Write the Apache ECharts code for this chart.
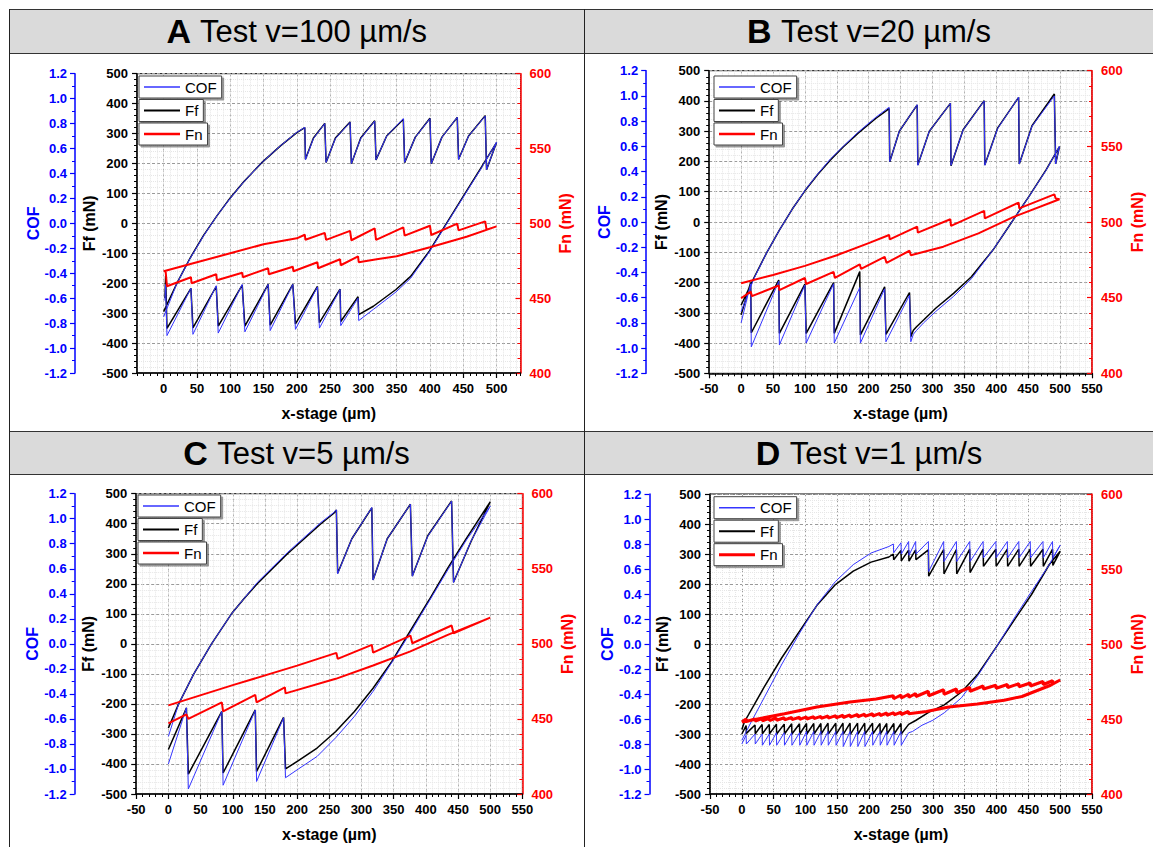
<!DOCTYPE html>
<html>
<head>
<meta charset="utf-8">
<script src="https://cdn.jsdelivr.net/npm/echarts@6/dist/echarts.min.js"></script>
<style>
  body { margin: 0; background: #fff; }
  #fig { position: relative; width: 1153px; height: 847px; overflow: hidden; background: #fff; }
  .bar { position: absolute; left: 9px; right: 0; background: #dadada; border-top: 1px solid #333; border-bottom: 1px solid #333; }
  .vline { position: absolute; width: 1px; background: #222; top: 9px; bottom: 0; }
  .panel { position: absolute; }
</style>
</head>
<body>
<div id="fig">
  <div class="bar" style="top:9px;height:43px"></div>
  <div class="bar" style="top:431px;height:42px"></div>
  <div class="vline" style="left:9px"></div>
  <div class="vline" style="left:584px"></div>
  <div class="panel" id="pA" style="left:9px;top:9px;width:575px;height:421px"></div>
  <div class="panel" id="pB" style="left:585px;top:9px;width:568px;height:421px"></div>
  <div class="panel" id="pC" style="left:9px;top:431px;width:575px;height:416px"></div>
  <div class="panel" id="pD" style="left:585px;top:431px;width:568px;height:416px"></div>
</div>
<script>
// tick labels
const X_TICKS_A = [0, 50, 100, 150, 200, 250, 300, 350, 400, 450, 500]
const X_TICKS = [-50, 0, 50, 100, 150, 200, 250, 300, 350, 400, 450, 500, 550]

// panel A, v = 100 um/s  ([x-stage, value])
const A_FF = [
  [0,-295],[20,-200],[40,-115],[60,-40],[80,25],[100,85],[120,138],[147,202],[175,258],[200,303],[212,320],
  [213,214],[225,285],[242,334],[244,203],[258,285],[280,339],[282,199],[296,285],[317,343],
  [319,212],[335,292],[360,348],[362,203],[378,288],[400,351],[402,199],[418,288],[441,354],
  [443,214],[458,292],[483,360],[485,179],[500,270],
  [478,190],[450,90],[422,-10],[399,-93],[371,-177],[349,-221],[315,-277],[293,-305],
  [292,-245],[266,-328],[265,-220],[234,-332],[231,-211],[198,-336],[194,-204],[160,-340],
  [157,-204],[122,-343],[118,-206],[82,-343],[79,-211],[44,-349],[41,-217],[5,-351],[3,-175],[2,-250]
]
const A_COF = [
  [0,-0.75],[20,-0.48],[40,-0.28],[60,-0.10],[80,0.06],[100,0.20],[120,0.33],[147,0.485],[175,0.62],[200,0.73],[212,0.77],
  [213,0.51],[225,0.68],[242,0.80],[244,0.49],[258,0.68],[280,0.81],[282,0.48],[296,0.68],[317,0.82],
  [319,0.51],[335,0.70],[360,0.84],[362,0.49],[378,0.69],[400,0.84],[402,0.48],[418,0.69],[441,0.85],
  [443,0.51],[458,0.70],[483,0.86],[485,0.43],[500,0.65],
  [478,0.45],[450,0.21],[422,-0.03],[399,-0.23],[371,-0.44],[349,-0.55],[315,-0.69],[293,-0.78],
  [292,-0.60],[266,-0.82],[265,-0.53],[234,-0.84],[231,-0.51],[198,-0.85],[194,-0.49],[160,-0.86],
  [157,-0.49],[122,-0.87],[118,-0.49],[82,-0.88],[79,-0.50],[44,-0.89],[41,-0.52],[5,-0.90],[3,-0.49],[2,-0.62]
]
const A_FN = [
  [0,468],[50,474],[100,480],[150,486],[200,490],[212,492.4],[213,489],[242,493.6],[244,489],
  [280,495],[282,488.7],[317,496.7],[319,489],[360,497.3],[362,491.8],[400,498.4],[402,492.2],
  [441,499.8],[443,495.3],[483,501.3],[485,495.8],[500,498],
  [455,491],[400,484],[350,478],[320,476],[293,474],[292,478],[266,472],[265,476],[232,470],[231,474],
  [195,468],[194,471],[158,466],[157,470],[119,464],[118,467],[80,462],[79,466],[42,460],[41,464],[5,458],[3,468]
]

// panel B, v = 20 um/s
const B_FF = [
  [0,-275],[20,-185],[40,-102],[60,-27],[80,42],[100,103],[120,157],[140,205],[160,248],[183,293],[211,342],[232,375],
  [233,199],[248,300],[276,387],[277,188],[295,300],[328,392],[329,186],[348,305],[381,401],
  [382,188],[402,310],[435,412],[436,192],[456,318],[491,423],[493,192],[499,249],
  [478,172],[451,84],[423,-4],[395,-92],[361,-181],[333,-236],[305,-285],[286,-324],[275,-346],[270,-358],[266,-379],
  [264,-233],[227,-371],[225,-214],[187,-373],[186,-164],[146,-368],[145,-200],[102,-368],[100,-205],
  [60,-368],[59,-192],[16,-366],[15,-200],[0,-307]
]
const B_COF = [
  [0,-0.71],[20,-0.45],[40,-0.245],[60,-0.065],[80,0.10],[100,0.25],[120,0.38],[140,0.50],[160,0.60],[183,0.71],[211,0.83],[232,0.91],
  [233,0.48],[248,0.72],[276,0.93],[277,0.45],[295,0.72],[328,0.94],[329,0.45],[348,0.73],[381,0.96],
  [382,0.45],[402,0.74],[435,0.99],[436,0.46],[456,0.76],[491,1.0],[493,0.46],[499,0.60],
  [478,0.41],[451,0.20],[423,-0.01],[395,-0.22],[361,-0.45],[333,-0.59],[305,-0.71],[286,-0.80],[275,-0.86],[270,-0.89],[266,-0.95],
  [264,-0.58],[227,-0.95],[225,-0.53],[187,-0.96],[186,-0.52],[146,-0.96],[145,-0.49],[102,-0.96],[100,-0.50],
  [60,-0.975],[59,-0.47],[16,-0.99],[15,-0.49],[0,-0.80]
]
const B_FN = [
  [0,459.5],[50,465],[100,471],[150,478],[200,486],[232,491.4],[233,488.5],[276,497],[277,493],
  [328,501.8],[329,497.4],[381,507.3],[382,502.4],[435,512.8],[436,509],[491,518.3],[493,515.6],[499,515],
  [428,503.5],[372,492.5],[317,483.7],[266,478],[264,481],[228,473],[225,477],[188,469],[186,472],
  [147,463],[145,467],[102,459],[100,463],[60,455],[59,458],[17,451],[15,454],[0,449.6]
]

// panel C, v = 5 um/s
const C_FF = [
  [0,-280],[16,-200],[39.5,-100],[67,0],[98,100],[118,152],[138,200],[185,300],[237,400],[257,435],[261,446],
  [263,235],[285,350],[316,453],[318,213],[340,350],[376,465],[379,226],[403,360],[440,476],
  [443,205],[470,340],[500,473],
  [463,351],[434,252],[405,146],[376,44],[347,-59],[318,-148],[289,-225],[260,-292],[231,-347],[202,-389],[182,-416],
  [179,-245],[137,-425],[135,-220],[85,-430],[83,-225],[31,-434],[28,-214],[0,-352]
]
const C_COF = [
  [0,-0.74],[16,-0.48],[39.5,-0.24],[67,0.0],[98,0.24],[118,0.365],[138,0.49],[185,0.73],[237,0.97],[257,1.05],[261,1.07],
  [263,0.56],[285,0.84],[316,1.09],[318,0.51],[340,0.84],[376,1.115],[379,0.54],[403,0.86],[440,1.14],
  [443,0.49],[470,0.82],[500,1.10],
  [463,0.83],[434,0.59],[405,0.34],[376,0.09],[347,-0.15],[318,-0.38],[289,-0.58],[260,-0.75],[231,-0.90],[202,-1.0],[182,-1.07],
  [179,-0.59],[137,-1.10],[135,-0.53],[85,-1.13],[83,-0.54],[31,-1.16],[28,-0.51],[0,-0.96]
]
const C_FN = [
  [0,459],[100,472.5],[200,485.5],[261,494],[263,490],[316,499.3],[318,494.2],[376,505.5],[379,500.4],
  [440,512.2],[443,507],[500,517.5],
  [434,506],[376,495],[318,485.6],[260,476.7],[182,467],[181,471],[137,461],[135,466],[85,455],[83,461],
  [31,450],[28,453],[0,447]
]

// panel D, v = 1 um/s
const D_FF = [
  [0,-285],[4,-260],[35,-144],[63,-45],[91,44],[119,132],[147,198],[175,243],[203,273],[231,290],
  [238,300],[238.5,281],[250,312],[250.5,277],[262,313],[262.5,276],[273,314],[273.5,281],[293,314],[293.5,226],
  [317,315],[317.5,234],[337,315],[337.5,234],[358,316],[358.5,238],[379,316],[379.5,259],[399,316],[399.5,259],
  [417,316],[417.5,259],[435,316],[435.5,259],[453,316],[453.5,259],[473,316],[473.5,259],[488,316],[488.5,262],[500,309],
  [483,265],[455,165],[427,77],[399,-12],[371,-100],[345,-160],[318,-203],[294,-227],[273,-255],[262,-268],
  [250.4,-300],[250,-265],[239.2,-300],[238.8,-265],[228,-300],[227.6,-265],[217.4,-300],[217,-265],
  [205.7,-300],[205.3,-264],[193.4,-300],[193,-264],[182.2,-301],[181.8,-264],[170.4,-301],[170,-264],
  [159.3,-301],[158.9,-264],[148,-301],[147.6,-264],[135.8,-300],[135.4,-264],[124.6,-300],[124.2,-265],
  [113.4,-300],[113,-265],[102,-300],[101.6,-265],[91,-300],[90.6,-266],[78.7,-300],[78.3,-266],
  [67,-300],[66.6,-267],[54.7,-300],[54.3,-267],[43.5,-299],[43.1,-268],[32.3,-299],[31.9,-268],
  [21.1,-299],[20.7,-270],[7.1,-298],[6.7,-272],[0,-300]
]
const D_COF = [
  [0,-0.77],[13,-0.64],[35,-0.43],[63,-0.16],[91,0.09],[119,0.32],[147,0.50],[175,0.635],[203,0.728],[231,0.78],
  [238,0.80],[238.5,0.73],[250,0.81],[250.5,0.72],[262,0.82],[262.5,0.71],[273,0.82],[273.5,0.72],[293,0.82],[293.5,0.58],
  [317,0.82],[317.5,0.66],[337,0.82],[337.5,0.66],[358,0.82],[358.5,0.66],[379,0.82],[379.5,0.69],[399,0.82],[399.5,0.69],
  [417,0.82],[417.5,0.69],[435,0.82],[435.5,0.69],[453,0.82],[453.5,0.69],[473,0.82],[473.5,0.69],[488,0.82],[488.5,0.69],[500,0.79],
  [483,0.635],[455,0.42],[427,0.2],[399,-0.03],[371,-0.25],[345,-0.43],[318,-0.55],[300,-0.61],[283,-0.65],[268,-0.70],[262,-0.71],
  [250.4,-0.81],[250,-0.70],[239.2,-0.81],[238.8,-0.70],[228,-0.81],[227.6,-0.70],[217.4,-0.81],[217,-0.70],
  [205.7,-0.81],[205.3,-0.70],[193.4,-0.82],[193,-0.70],[182.2,-0.82],[181.8,-0.70],[170.4,-0.82],[170,-0.70],
  [159.3,-0.82],[158.9,-0.70],[148,-0.81],[147.6,-0.70],[135.8,-0.81],[135.4,-0.70],[124.6,-0.81],[124.2,-0.70],
  [113.4,-0.81],[113,-0.70],[102,-0.81],[101.6,-0.70],[91,-0.81],[90.6,-0.71],[78.7,-0.81],[78.3,-0.71],
  [67,-0.81],[66.6,-0.71],[54.7,-0.81],[54.3,-0.71],[43.5,-0.81],[43.1,-0.72],[32.3,-0.81],[31.9,-0.72],
  [21.1,-0.80],[20.7,-0.72],[7.1,-0.80],[6.7,-0.73],[0,-0.80]
]
const D_FN = [
  [0,448],[67,453.5],[118,458],[170,461.3],[211,463.4],[238,465.5],[238.5,463.5],[250,466],[250.5,464],
  [262,466.5],[262.5,464.5],[273,467],[273.5,465],[293,468.5],[293.5,465.5],[317,469.5],[317.5,466.5],
  [337,470],[337.5,467.5],[358,471],[358.5,468.5],[379,472],[379.5,470],[399,472.5],[399.5,470.5],
  [417,473],[417.5,471],[435,473.5],[435.5,471.5],[453,474],[453.5,472],[473,475],[473.5,473],[488,475.5],[488.5,473.5],[500,476],
  [485,472.5],[470,470],[440,465],[412,462.5],[370,460],[325,458],[290,455],[262,453.5],
  [261.6,455],[250.4,453],[250,454.5],[239.2,452.8],[238.8,454.2],[228,452.5],[227.6,454],[217.4,452.2],[217,453.7],
  [205.7,452],[205.3,453.5],[193.4,451.7],[193,453.2],[182.2,451.5],[181.8,453],[170.4,451.3],[170,452.8],
  [159.3,451],[158.9,452.5],[148,450.8],[147.6,452.3],[135.8,450.6],[135.4,452],[124.6,450.4],[124.2,451.8],
  [113.4,450.2],[113,451.6],[102,450],[101.6,451.4],[91,449.8],[90.6,451.2],[78.7,449.6],[78.3,451],
  [67,449.4],[66.6,450.8],[54.7,449.2],[54.3,450.6],[43.5,449],[43.1,450.4],[32.3,448.8],[31.9,450.2],
  [21.1,448.6],[20.7,450],[7.1,448.3],[6.7,450],[0,448]
]

const FONT = "'Liberation Sans', Arial, sans-serif"
const COF_COLOR = '#0000ff'
const COF_LINE = '#3535ff'
const FN_COLOR = '#ff0000'

const panels = [
  { id: 'pA', letter: 'A', title: 'Test v=100 µm/s', xMin: -40, xMax: 536, ticks: X_TICKS_A,
    grid: { left: 128, top: 64.7, width: 383.5, height: 299.3 }, cofOffset: 62, legend: [130, 67],
    ff: A_FF, cof: A_COF, fn: A_FN, fnWidth: 2 },
  { id: 'pB', letter: 'B', title: 'Test v=20 µm/s', xMin: -50, xMax: 550, ticks: X_TICKS,
    grid: { left: 124.2, top: 61.7, width: 389.4, height: 302.6 }, cofOffset: 63, legend: [129, 67],
    ff: B_FF, cof: B_COF, fn: B_FN, fnWidth: 2 },
  { id: 'pC', letter: 'C', title: 'Test v=5 µm/s', xMin: -50, xMax: 550, ticks: X_TICKS,
    grid: { left: 127.2, top: 62.7, width: 386.2, height: 300.6 }, cofOffset: 61.5, legend: [129, 64],
    ff: C_FF, cof: C_COF, fn: C_FN, fnWidth: 2 },
  { id: 'pD', letter: 'D', title: 'Test v=1 µm/s', xMin: -50, xMax: 550, ticks: X_TICKS,
    grid: { left: 125, top: 63, width: 389.3, height: 301.7 }, cofOffset: 60.5, legend: [129, 65.7],
    ff: D_FF, cof: D_COF, fn: D_FN, fnWidth: 3 }
]

function legendBox(name, left, top, lineH) {
  return {
    data: [name],
    left: left,
    top: top,
    orient: 'vertical',
    selectedMode: false,
    icon: 'rect',
    itemWidth: 36,
    itemHeight: lineH,
    padding: [3, 5, 3, 5],
    backgroundColor: '#fff',
    borderColor: '#444',
    borderWidth: 1,
    shadowColor: 'rgba(0,0,0,0.4)',
    shadowBlur: 1,
    shadowOffsetX: 2,
    shadowOffsetY: 2,
    textStyle: { fontFamily: FONT, fontSize: 15, color: '#000', lineHeight: 16 }
  }
}

function tickLabel(color) {
  return { color: color, fontFamily: FONT, fontSize: 13, fontWeight: 'bold' }
}

function nameStyle(color) {
  return { color: color, fontFamily: FONT, fontSize: 16, fontWeight: 'bold' }
}

function loadChart(p) {
  const chart = echarts.init(document.getElementById(p.id), null, { renderer: 'svg' })
  const options = {
    animation: false,
    title: {
      text: '{b|' + p.letter + ' }{n|' + p.title + '}',
      left: 'center',
      top: 4,
      padding: 0,
      textStyle: {
        fontWeight: 'normal',
        rich: {
          b: { fontFamily: FONT, fontSize: 34, fontWeight: 'bold', color: '#000', lineHeight: 36 },
          n: { fontFamily: FONT, fontSize: 31, fontWeight: 'normal', color: '#000', lineHeight: 36 }
        }
      }
    },
    grid: Object.assign({ show: true, borderColor: '#000', borderWidth: 1, backgroundColor: 'transparent' }, p.grid),
    legend: [
      legendBox('COF', p.legend[0], p.legend[1], 1.5),
      legendBox('Ff', p.legend[0], p.legend[1] + 23.5, 2),
      legendBox('Fn', p.legend[0], p.legend[1] + 47, p.fnWidth === 3 ? 3 : 2.5)
    ],
    xAxis: [
      {
        type: 'value',
        position: 'bottom',
        min: p.xMin,
        max: p.xMax,
        interval: 10,
        axisLine: { show: true, onZero: false, lineStyle: { color: '#000', width: 1.5 } },
        axisTick: { show: true, customValues: p.ticks, length: 5, lineStyle: { color: '#000', width: 1.2 } },
        axisLabel: Object.assign({ customValues: p.ticks, margin: 9 }, tickLabel('#000')),
        splitLine: { show: true, lineStyle: { color: '#9a9a9a', width: 1, type: [3, 2] } },
        name: 'x-stage (µm)',
        nameLocation: 'middle',
        nameGap: 32,
        nameMoveOverlap: false,
        nameTextStyle: nameStyle('#000')
      },
      {
        // minor ticks and fine grid every 10 um
        type: 'value',
        position: 'bottom',
        min: p.xMin,
        max: p.xMax,
        interval: 10,
        axisLine: { show: false, onZero: false },
        axisLabel: { show: false },
        axisTick: { show: true, length: 3, lineStyle: { color: '#000', width: 1 } },
        splitLine: { show: true, lineStyle: { color: '#e6e6e6', width: 1, type: 'dotted' } }
      }
    ],
    yAxis: [
      {
        type: 'value',
        position: 'left',
        min: -500,
        max: 500,
        interval: 100,
        axisLine: { show: true, onZero: false, lineStyle: { color: '#000', width: 1.5 } },
        axisTick: { show: true, length: 5, lineStyle: { color: '#000', width: 1.2 } },
        minorTick: { show: true, splitNumber: 5, length: 3, lineStyle: { color: '#000' } },
        axisLabel: Object.assign({ margin: 9 }, tickLabel('#000')),
        splitLine: { show: true, lineStyle: { color: '#9a9a9a', width: 1, type: [3, 2] } },
        minorSplitLine: { show: true, lineStyle: { color: '#e6e6e6', width: 1, type: 'dotted' } },
        name: 'Ff (mN)',
        nameLocation: 'middle',
        nameGap: 40,
        nameMoveOverlap: false,
        nameTextStyle: nameStyle('#000')
      },
      {
        type: 'value',
        position: 'left',
        offset: p.cofOffset,
        min: -1.2,
        max: 1.2,
        interval: 0.2,
        axisLine: { show: true, onZero: false, lineStyle: { color: COF_COLOR, width: 1.5 } },
        axisTick: { show: true, length: 5, lineStyle: { color: COF_COLOR, width: 1.2 } },
        minorTick: { show: true, splitNumber: 2, length: 3, lineStyle: { color: COF_COLOR } },
        axisLabel: Object.assign({ margin: 8, formatter: v => v.toFixed(1) }, tickLabel(COF_COLOR)),
        splitLine: { show: false },
        name: 'COF',
        nameLocation: 'middle',
        nameGap: 34,
        nameMoveOverlap: false,
        nameTextStyle: nameStyle(COF_COLOR)
      },
      {
        type: 'value',
        position: 'right',
        min: 400,
        max: 600,
        interval: 50,
        axisLine: { show: true, onZero: false, lineStyle: { color: FN_COLOR, width: 1.5 } },
        axisTick: { show: true, inside: true, length: 5, lineStyle: { color: FN_COLOR, width: 1.2 } },
        minorTick: { show: true, splitNumber: 5, length: 3, lineStyle: { color: FN_COLOR } },
        axisLabel: Object.assign({ margin: 9 }, tickLabel(FN_COLOR)),
        splitLine: { show: false },
        name: 'Fn (mN)',
        nameLocation: 'middle',
        nameGap: 37,
        nameMoveOverlap: false,
        nameTextStyle: nameStyle(FN_COLOR)
      }
    ],
    series: [
      {
        name: 'Ff', type: 'line', xAxisIndex: 0, yAxisIndex: 0, data: p.ff,
        symbol: 'none', smooth: false, z: 2,
        lineStyle: { color: '#000', width: 1.5 }, itemStyle: { color: '#000' }
      },
      {
        name: 'COF', type: 'line', xAxisIndex: 0, yAxisIndex: 1, data: p.cof,
        symbol: 'none', smooth: false, z: 3,
        lineStyle: { color: COF_LINE, width: 1 }, itemStyle: { color: COF_LINE }
      },
      {
        name: 'Fn', type: 'line', xAxisIndex: 0, yAxisIndex: 2, data: p.fn,
        symbol: 'none', smooth: false, z: 4,
        lineStyle: { color: FN_COLOR, width: p.fnWidth }, itemStyle: { color: FN_COLOR }
      }
    ]
  }
  chart.setOption(options)
}

panels.forEach(loadChart)
</script>
</body>
</html>
